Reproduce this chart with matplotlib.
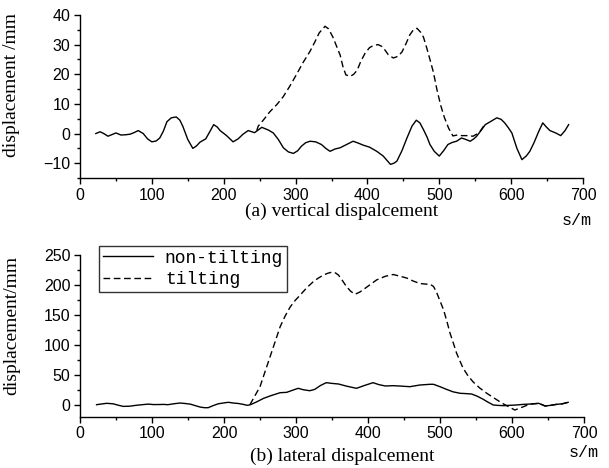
import matplotlib
matplotlib.use('Agg')
import matplotlib.pyplot as plt
from matplotlib.ticker import MultipleLocator

# (a) vertical displacement - non-tilting
s_v_non = [22, 28, 33, 39, 45, 50, 57, 64, 70, 76, 81, 88, 94, 100, 106, 111, 116, 121, 127, 134,
           139, 143, 150, 157, 162, 167, 175, 181, 186, 191, 195, 204, 213, 220, 227, 234, 243, 248,
           253, 262, 269, 276, 283, 290, 297, 303, 308, 314, 320, 328, 336, 342, 348, 355, 362, 371,
           380, 387, 394, 403, 413, 422, 427, 432, 437, 441, 448, 455, 462, 468, 473, 478, 483, 487,
           493, 500, 506, 512, 518, 524, 531, 537, 543, 548, 552, 558, 564, 571, 580, 586, 591, 596,
           601, 608, 615, 621, 626, 632, 638, 644, 649, 654, 662, 669, 675, 680]
v_non = [0.0, 0.6, 0.0, -0.9, -0.3, 0.2, -0.5, -0.4, -0.2, 0.4, 1.0, 0.0, -1.8, -2.8, -2.5, -1.5, 0.8,
         4.0, 5.3, 5.6, 4.5, 2.5, -2.0, -5.0, -4.2, -2.9, -1.8, 0.8, 3.0, 2.2, 1.0, -0.7, -2.8, -1.8,
         -0.2, 1.0, 0.3, 1.2, 2.1, 1.2, 0.2, -2.0, -4.8, -6.2, -6.7, -5.8, -4.3, -3.1, -2.6, -2.8, -3.7,
         -5.0, -6.0, -5.2, -4.8, -3.7, -2.6, -3.2, -3.9, -4.6, -6.0, -7.6, -9.0, -10.4, -10.0, -9.3,
         -5.8, -1.5, 2.5, 4.5, 3.6, 1.3, -1.2, -3.7, -6.0, -7.6, -5.8, -3.7, -3.0, -2.6, -1.5, -2.0,
         -2.6, -1.8, -0.9, 1.0, 3.0, 4.0, 5.3, 4.8, 3.6, 2.0, 0.2, -5.0, -8.8, -7.6, -6.0, -3.0, 0.5,
         3.6, 2.2, 1.0, 0.2, -0.7, 1.0, 3.0]

# (a) vertical displacement - tilting
s_v_tilt = [246, 248, 256, 264, 274, 283, 292, 301, 310, 320, 327, 333, 341, 346, 352, 357, 362, 366,
            370, 376, 381, 386, 391, 397, 403, 409, 415, 420, 425, 429, 436, 442, 448, 454, 459, 464,
            469, 474, 478, 483, 487, 492, 497, 502, 507, 513, 519, 525, 531, 538, 547, 552, 557, 563]
v_tilt = [1.0, 2.5, 4.8, 7.3, 9.8, 12.5, 16.0, 19.8, 23.8, 27.7, 31.0, 34.0, 36.2, 35.3, 32.5, 29.5,
          26.5, 22.5, 19.8, 19.3, 20.0, 21.5, 24.5, 27.2, 29.0, 29.8, 30.0, 29.4, 28.0, 26.6, 25.5,
          26.0, 27.5, 30.5, 33.3, 35.0, 35.5, 34.2, 32.5, 28.5, 25.0, 20.5, 14.5, 9.5, 5.5, 1.8, -0.8,
          -0.5, -0.7, -0.7, -0.9, -0.2, 0.8, 3.0]

# (b) lateral displacement - non-tilting
s_l_non = [23, 30, 37, 46, 53, 60, 69, 78, 88, 95, 102, 110, 116, 122, 130, 139, 146, 153, 160, 167,
           173, 178, 185, 192, 200, 206, 213, 220, 227, 232, 236, 245, 255, 265, 278, 287, 295, 303,
           310, 319, 326, 334, 342, 350, 359, 370, 384, 395, 407, 415, 424, 435, 446, 458, 472, 486,
           491, 500, 509, 518, 528, 536, 544, 552, 560, 567, 574, 581, 588, 597, 606, 615, 625, 631,
           637, 642, 646, 654, 662, 670, 678]
l_non = [0.0, 1.2, 2.3, 1.5, -0.8, -2.8, -2.5, -1.0, 0.2, 1.0, 0.2, 0.3, 0.5, 0.0, 1.5, 2.8, 2.0, 1.0,
         -1.5, -4.0, -5.0, -5.0, -1.5, 1.5, 3.0, 4.0, 2.8, 2.0, 0.5, -1.0, -0.3, 4.5, 10.6, 15.0, 20.0,
         20.6, 24.0, 27.3, 25.0, 23.3, 25.5, 32.0, 36.7, 35.5, 34.5, 31.0, 27.3, 32.0, 36.7, 33.5, 31.2,
         31.7, 31.0, 30.0, 32.8, 34.0, 34.0, 30.0, 25.6, 21.5, 19.0, 18.5, 17.8, 14.0, 9.0, 4.0, -0.5,
         -1.2, -1.6, -1.0, -0.5, 0.5, 1.1, 1.5, 2.3, 0.0, -2.2, -1.0, 0.6, 1.5, 4.0]

# (b) lateral displacement - tilting
s_l_tilt = [236, 243, 250, 257, 264, 271, 278, 285, 292, 299, 306, 315, 324, 331, 338, 344, 350, 355,
            359, 365, 370, 376, 382, 389, 396, 404, 412, 424, 435, 445, 454, 463, 472, 480, 486, 491,
            495, 500, 505, 510, 514, 519, 523, 528, 532, 539, 546, 555, 565, 574, 583, 590, 597, 604,
            610, 616, 625, 637, 646, 654, 662, 670, 678]
l_tilt = [0, 15, 30, 55, 80, 105, 130, 148, 163, 174, 183, 195, 205, 211, 216, 219, 221, 219.5, 216,
          206, 197, 189, 184, 188, 194, 201, 208, 214, 217, 214, 211, 206, 202, 201, 201, 197, 188,
          173, 158, 137, 119, 101, 86, 72, 61, 48, 38, 28, 19, 12, 5, 0, -4.4, -8.9, -6, -3.3, 1.1,
          2.3, -2.2, -1.0, 0.6, 1.5, 4.0]

serif = ['Liberation Serif', 'DejaVu Serif']
mono = ['Liberation Mono', 'DejaVu Sans Mono']
sans = ['Liberation Sans', 'DejaVu Sans']

fig = plt.figure(figsize=(6.09, 4.68), dpi=100)
ax1 = fig.add_axes([80 / 609, 1 - 178 / 468, 503 / 609, 163 / 468])
ax2 = fig.add_axes([80 / 609, 1 - 416.7 / 468, 504 / 609, 162 / 468])

dash = (4.8, 2.6)


def style_axes(ax, ylim, ymaj, ymin):
    ax.set_xlim(0, 700)
    ax.set_ylim(*ylim)
    for side in ['top', 'right']:
        ax.spines[side].set_visible(False)
    for side in ['left', 'bottom']:
        ax.spines[side].set_linewidth(1.0)
    ax.xaxis.set_major_locator(MultipleLocator(100))
    ax.xaxis.set_minor_locator(MultipleLocator(50))
    ax.yaxis.set_major_locator(MultipleLocator(ymaj))
    ax.yaxis.set_minor_locator(MultipleLocator(ymin))
    ax.tick_params(which='major', direction='out', length=4, width=1.0, pad=3)
    ax.tick_params(which='minor', direction='out', length=2.5, width=1.0)
    for lab in ax.get_xticklabels() + ax.get_yticklabels():
        lab.set_family(sans)
        lab.set_fontsize(11.5)


# 上图：竖向位移
ax1.plot(s_v_non, v_non, color='black', lw=1.0)
ax1.plot(s_v_tilt, v_tilt, color='black', lw=1.0, dashes=dash)
style_axes(ax1, (-15, 40), 10, 5)
ax1.set_yticks([-10, 0, 10, 20, 30, 40])
for lab in ax1.get_yticklabels():
    lab.set_family(sans)
    lab.set_fontsize(11.5)
ax1.set_ylabel('displacement /mm', family=serif, fontsize=14)
ax1.yaxis.set_label_coords(-0.119, 0.57)
ax1.text(0.521, -0.205, '(a) vertical dispalcement', transform=ax1.transAxes,
         ha='center', va='center', family=serif, fontsize=14)
ax1.text(0.988, -0.26, 's/m', transform=ax1.transAxes,
         ha='center', va='center', family=mono, fontsize=12)

# 下图：横向位移
ax2.plot(s_l_non, l_non, color='black', lw=1.0, label='non-tilting')
ax2.plot(s_l_tilt, l_tilt, color='black', lw=1.0, dashes=dash, label='tilting')
style_axes(ax2, (-20, 250), 50, 25)
ax2.set_yticks([0, 50, 100, 150, 200, 250])
for lab in ax2.get_yticklabels():
    lab.set_family(sans)
    lab.set_fontsize(11.5)
ax2.set_ylabel('displacement/mm', family=serif, fontsize=14)
ax2.yaxis.set_label_coords(-0.119, 0.563)
ax2.text(0.520, -0.245, '(b) lateral dispalcement', transform=ax2.transAxes,
         ha='center', va='center', family=serif, fontsize=14)
ax2.text(1.0, -0.22, 's/m', transform=ax2.transAxes,
         ha='center', va='center', family=mono, fontsize=12)

leg = ax2.legend(loc='upper left', bbox_to_anchor=(99 / 609, 1 - 246 / 468),
                 bbox_transform=fig.transFigure, frameon=True, fancybox=False,
                 prop={'family': mono, 'size': 13}, handlelength=2.8,
                 handletextpad=0.65, borderpad=0.2, labelspacing=0.25,
                 borderaxespad=0)
leg.get_frame().set_edgecolor('black')
leg.get_frame().set_linewidth(1.0)

fig.savefig('out.png', dpi=100)
